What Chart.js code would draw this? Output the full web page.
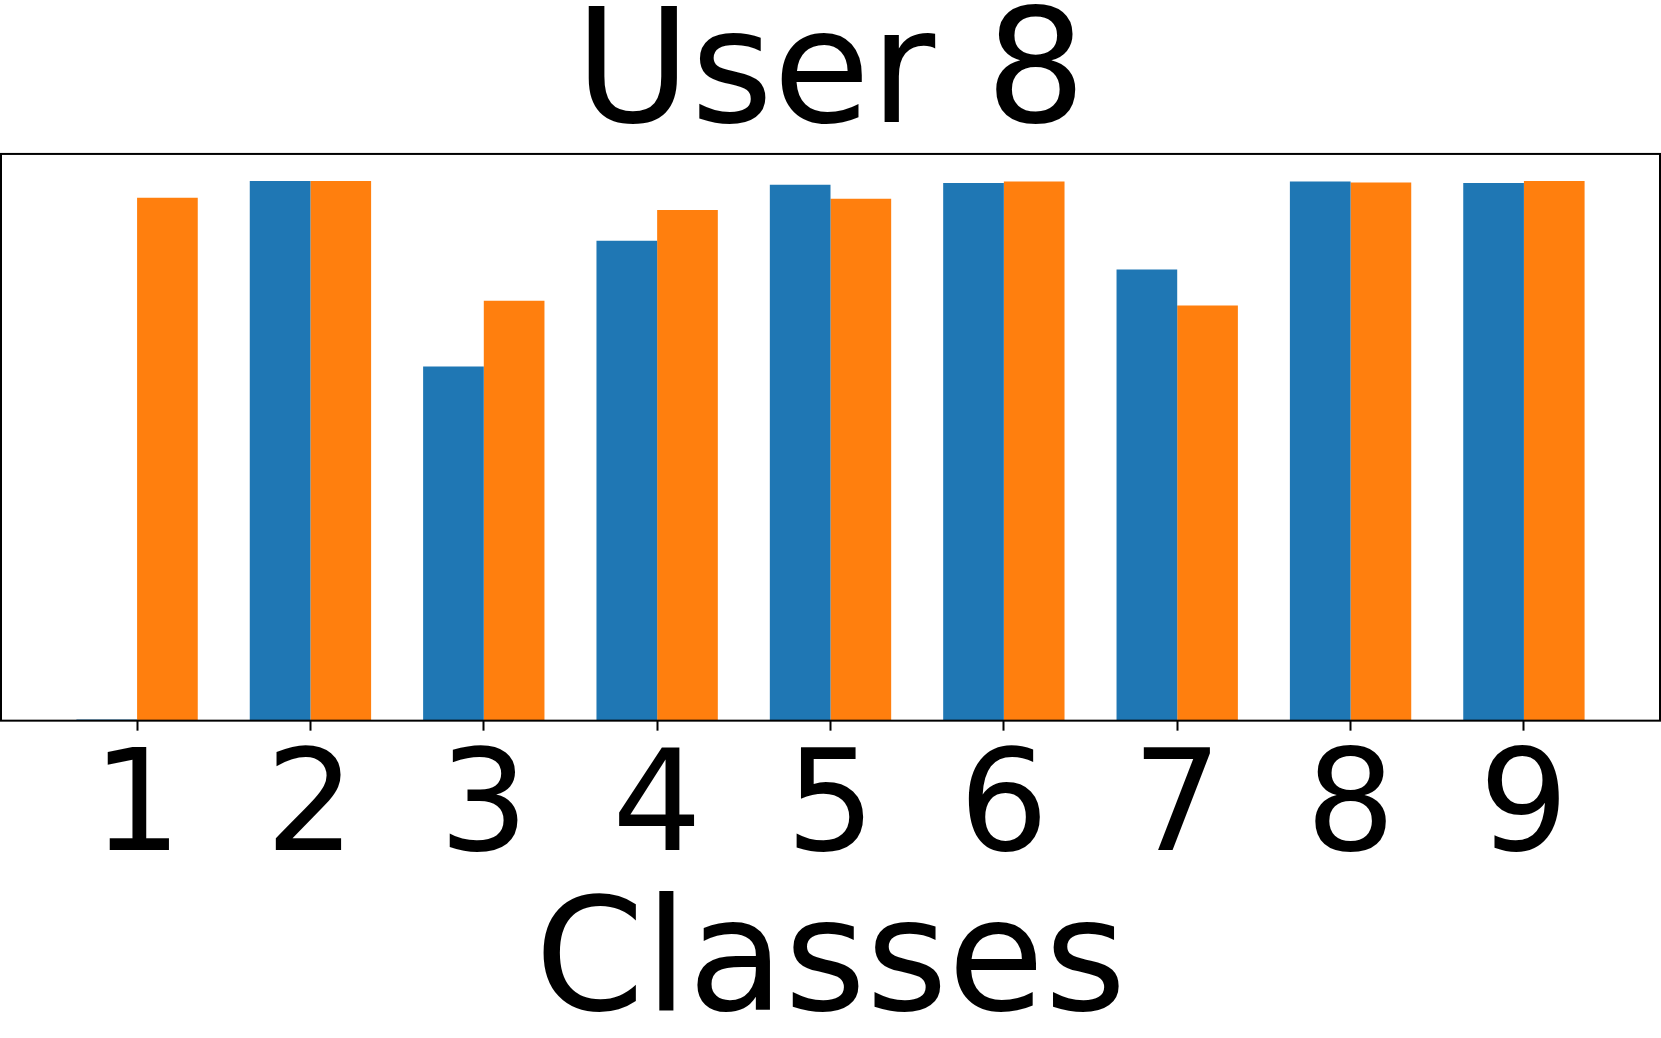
<!DOCTYPE html>
<html>
<head>
<meta charset="utf-8">
<script src="https://cdn.jsdelivr.net/npm/chart.js@4"></script>
<style>
  html, body { margin: 0; padding: 0; background: #fff; }
  canvas { display: block; }
</style>
</head>
<body>
<canvas id="chart" width="1661" height="1038"></canvas>
<script>
// class labels along the x axis
const classes = ['1', '2', '3', '4', '5', '6', '7', '8', '9'];
// blue series
const blueVals = [0.002, 1.000, 0.656, 0.889, 0.993, 0.996, 0.836, 0.999, 0.996];
// orange series
const orangeVals = [0.969, 1.000, 0.778, 0.946, 0.967, 0.999, 0.769, 0.997, 1.000];

Chart.defaults.font.family = "'DejaVu Sans', sans-serif";
Chart.defaults.color = '#000';

// matplotlib style box around the axes
const frame = {
  id: 'frame',
  afterDatasetsDraw(chart) {
    const { ctx, chartArea: a } = chart;
    ctx.save();
    ctx.strokeStyle = '#000';
    ctx.lineWidth = 2;
    ctx.strokeRect(a.left, a.top, a.right - a.left, a.bottom - a.top);
    ctx.restore();
  }
};

const toPoints = (vals) => vals.map((v, i) => ({ x: i, y: v }));

new Chart(document.getElementById('chart'), {
  type: 'bar',
  data: {
    datasets: [{
      label: 'blue',
      data: toPoints(blueVals),
      backgroundColor: '#1f77b4',
      borderWidth: 0
    }, {
      label: 'orange',
      data: toPoints(orangeVals),
      backgroundColor: '#ff7f0e',
      borderWidth: 0
    }]
  },
  options: {
    responsive: false,
    animation: false,
    categoryPercentage: 0.7,
    barPercentage: 1.0,
    layout: { padding: { left: 1, right: 1, top: 0, bottom: 0 } },
    plugins: {
      legend: { display: false },
      tooltip: { enabled: false },
      title: {
        display: true,
        text: 'User 8',
        color: '#000',
        font: { size: 158, weight: 'normal', lineHeight: 0.835 },
        padding: { top: 15, bottom: 7 }
      }
    },
    scales: {
      x: {
        type: 'linear',
        offset: false,
        min: -0.785,
        max: 8.785,
        border: { display: false },
        grid: {
          offset: false,
          drawOnChartArea: false,
          drawTicks: true,
          tickLength: 10,
          tickWidth: 2,
          tickColor: '#000'
        },
        ticks: {
          stepSize: 1,
          includeBounds: false,
          autoSkip: false,
          maxRotation: 0,
          padding: 12,
          font: { size: 141, lineHeight: 1.0 },
          callback: (v) => classes[v] ?? ''
        },
        title: {
          display: true,
          text: 'Classes',
          color: '#000',
          font: { size: 157, lineHeight: 0.862 },
          padding: { top: 6, bottom: 1 }
        }
      },
      y: {
        display: false,
        min: 0,
        max: 1.05
      }
    }
  },
  plugins: [frame]
});
</script>
</body>
</html>
